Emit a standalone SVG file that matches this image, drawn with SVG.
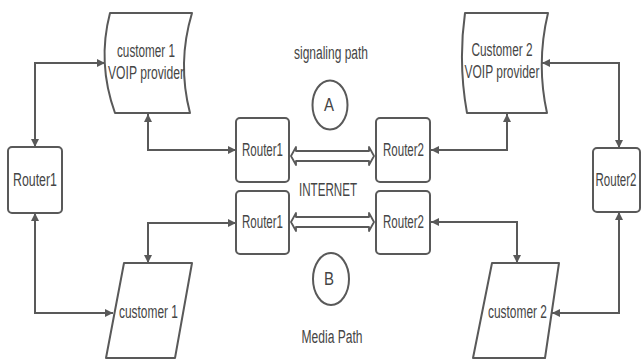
<svg xmlns="http://www.w3.org/2000/svg" width="642" height="361" viewBox="0 0 642 361">
<style>
.shape{fill:#ffffff;stroke:#595959;stroke-width:2;stroke-linejoin:round}
.conn{fill:none;stroke:#595959;stroke-width:2;marker-start:url(#ah);marker-end:url(#ah)}
.hollow{fill:#ffffff;stroke:#595959;stroke-width:1.8;stroke-linejoin:round}
text{font-family:"Liberation Sans",Arial,sans-serif;font-size:18px;fill:#454545;text-anchor:middle}
</style>
<defs>
<marker id="ah" viewBox="0 0 10 10" refX="10" refY="5" markerWidth="9" markerHeight="8" markerUnits="userSpaceOnUse" orient="auto-start-reverse">
<path d="M0,0 L10,5 L0,10 z" fill="#595959"/>
</marker>
</defs>
<rect width="642" height="361" fill="#ffffff"/>
<g id="connectors">
<path class="conn" d="M35,147 L35,63 L105,63"/>
<path class="conn" d="M148,114 L148,150 L236,150"/>
<path class="conn" d="M35,213 L35,313 L113,313"/>
<path class="conn" d="M148,263 L148,223 L236,223"/>
<path class="conn" d="M507,114 L507,150 L431,150"/>
<path class="conn" d="M542,63 L619,63 L619,148"/>
<path class="conn" d="M619,212 L619,313 L552,313"/>
<path class="conn" d="M517,263 L517,222 L431,222"/>
<path class="hollow" d="M291,156 L296,147 L296,151 L369,151 L369,147 L374,156 L369,165 L369,161 L296,161 L296,165 Z"/>
<path class="hollow" d="M291,222 L296,213 L296,217 L369,217 L369,213 L374,222 L369,231 L369,227 L296,227 L296,231 Z"/>
</g>
<g id="provider1">
<path class="shape" d="M110,13 L192,13 Q177,63 190,113 L115,113 Q97,63 110,13 Z"/>
<text x="146" y="57" textLength="58" lengthAdjust="spacingAndGlyphs">customer 1</text>
<text x="146" y="79" textLength="76" lengthAdjust="spacingAndGlyphs">VOIP provider</text>
</g>
<g id="provider2">
<path class="shape" d="M465,13 L548,13 Q536,63 547,113 L467,113 Q458,63 465,13 Z"/>
<text x="502" y="56" textLength="61" lengthAdjust="spacingAndGlyphs">Customer 2</text>
<text x="502" y="78" textLength="75" lengthAdjust="spacingAndGlyphs">VOIP provider</text>
</g>
<g id="router1-left">
<rect class="shape" x="8" y="147" width="54" height="66" rx="4"/>
<text x="35" y="186" textLength="44" lengthAdjust="spacingAndGlyphs">Router1</text>
</g>
<g id="router2-right">
<rect class="shape" x="593" y="148" width="47" height="64" rx="4"/>
<text transform="translate(616,186) scale(0.64,1)" x="0" y="0">Router2</text>
</g>
<g id="router1-a">
<rect class="shape" x="236" y="118" width="53" height="64" rx="4"/>
<text x="262.5" y="156" textLength="41" lengthAdjust="spacingAndGlyphs">Router1</text>
</g>
<g id="router2-a">
<rect class="shape" x="376" y="118" width="54" height="64" rx="4"/>
<text x="403.5" y="156" textLength="41" lengthAdjust="spacingAndGlyphs">Router2</text>
</g>
<g id="router1-b">
<rect class="shape" x="236" y="191" width="53" height="63" rx="4"/>
<text x="262.5" y="228" textLength="41" lengthAdjust="spacingAndGlyphs">Router1</text>
</g>
<g id="router2-b">
<rect class="shape" x="376" y="191" width="54" height="63" rx="4"/>
<text x="403.5" y="228" textLength="41" lengthAdjust="spacingAndGlyphs">Router2</text>
</g>
<g id="customer1">
<path class="shape" d="M124,263 L192,263 L175,358 L106,358 Z"/>
<text x="148.5" y="318" textLength="59" lengthAdjust="spacingAndGlyphs">customer 1</text>
</g>
<g id="customer2">
<path class="shape" d="M492,263 L559,263 L545,358 L473,358 Z"/>
<text x="517.5" y="318" textLength="59" lengthAdjust="spacingAndGlyphs">customer 2</text>
</g>
<g id="circle-a">
<ellipse class="shape" cx="330" cy="105" rx="17.5" ry="24.5"/>
<text x="329" y="111" textLength="10" lengthAdjust="spacingAndGlyphs">A</text>
</g>
<g id="circle-b">
<ellipse class="shape" cx="331" cy="279" rx="18" ry="26"/>
<text x="329" y="285" textLength="10" lengthAdjust="spacingAndGlyphs">B</text>
</g>
<g id="labels">
<text x="331" y="59" textLength="74" lengthAdjust="spacingAndGlyphs">signaling path</text>
<text x="328" y="196" textLength="58" lengthAdjust="spacingAndGlyphs">INTERNET</text>
<text x="332" y="343" textLength="61" lengthAdjust="spacingAndGlyphs">Media Path</text>
</g>
</svg>
